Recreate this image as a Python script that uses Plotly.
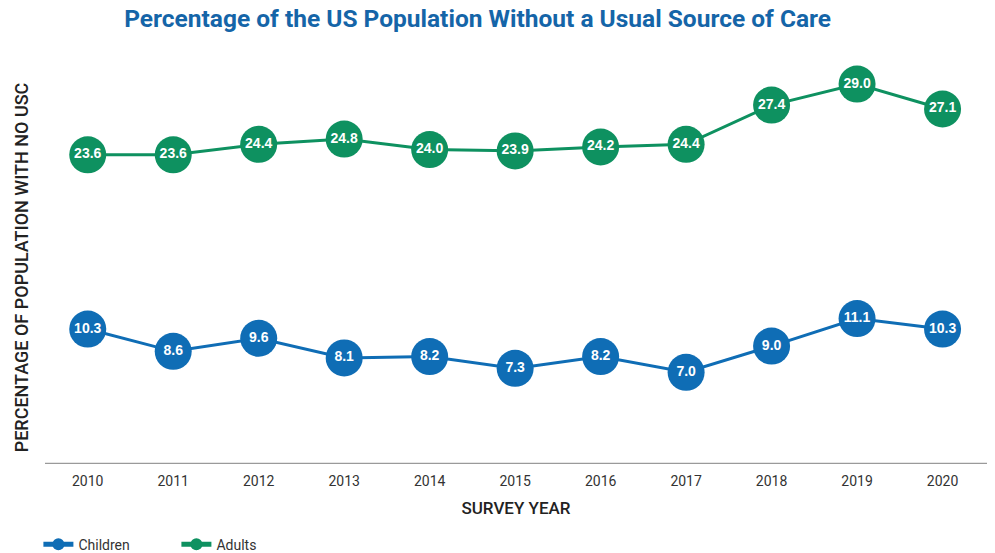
import plotly.graph_objects as go

years = [2010, 2011, 2012, 2013, 2014, 2015, 2016, 2017, 2018, 2019, 2020]
children = [10.3, 8.6, 9.6, 8.1, 8.2, 7.3, 8.2, 7.0, 9.0, 11.1, 10.3]
adults = [23.6, 23.6, 24.4, 24.8, 24.0, 23.9, 24.2, 24.4, 27.4, 29.0, 27.1]

blue = "#0F6DB5"
green = "#0E9160"
font_family = "Roboto, Arial, sans-serif"

fig = go.Figure()
for name, vals, col in [("Children", children, blue), ("Adults", adults, green)]:
    fig.add_trace(go.Scatter(
        x=years, y=vals, name=name, mode="lines+markers+text",
        line=dict(color=col, width=3),
        marker=dict(color=col, size=37, line=dict(width=0)),
        text=[f"{v:.1f}" for v in vals], textposition="middle center",
        textfont=dict(color="white", size=14, family="Liberation Sans, Arial, sans-serif", weight="bold"),
        cliponaxis=False,
    ))

fig.update_layout(
    width=995, height=553,
    margin=dict(l=45, r=8, t=71, b=89, autoexpand=False),
    paper_bgcolor="white", plot_bgcolor="white",
    font=dict(family=font_family, color="#333333", size=13),
    title=dict(text="<b>Percentage of the US Population Without a Usual Source of Care</b>",
               x=0.48, xanchor="center", y=0.967, yanchor="middle",
               font=dict(size=24.5, color="#1565A8", family=font_family)),
    showlegend=True,
    legend=dict(orientation="h", x=-0.007, xanchor="left", y=-0.205, yanchor="middle",
                font=dict(size=14, color="#333333"), traceorder="normal",
                itemsizing="constant", entrywidth=93, entrywidthmode="pixels"),
    xaxis=dict(range=[2009.5, 2020.52], tickmode="array", tickvals=years,
               ticktext=[str(y) for y in years], showgrid=False, zeroline=False,
               showline=False, ticks="outside", ticklen=4, tickcolor="rgba(0,0,0,0)",
               automargin=False,
               tickfont=dict(size=14, color="#333333"),
               title=dict(text="SURVEY YEAR", font=dict(size=17, color="#222222", weight=500), standoff=14)),
    yaxis=dict(range=[0, 30], showgrid=False, zeroline=False, showline=False,
               showticklabels=False, ticks="", automargin=False,
               title=dict(text="PERCENTAGE OF POPULATION WITH NO USC",
                          font=dict(size=18, color="#222222", weight=500), standoff=10)),
)

fig.add_shape(type="line", xref="paper", yref="y", x0=0, x1=1, y0=0, y1=0,
              line=dict(color="#9a9a9a", width=2.5), layer="below")

fig.write_html("out.html")
